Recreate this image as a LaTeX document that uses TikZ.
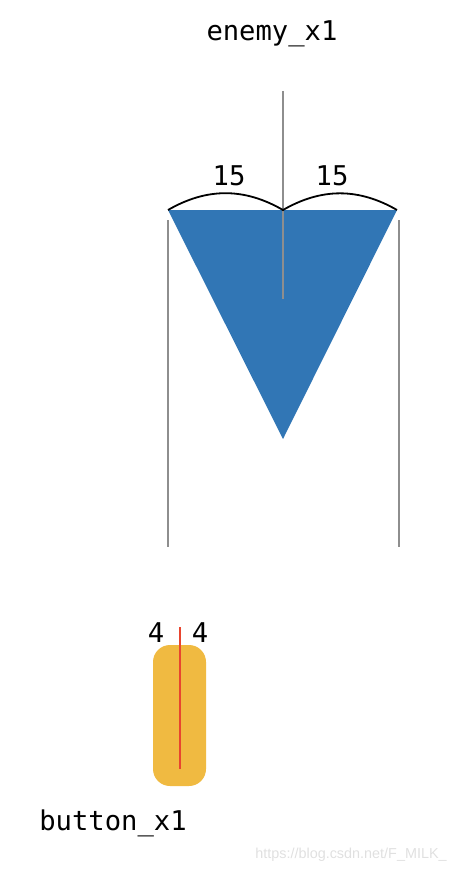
\documentclass[tikz,border=0pt]{standalone}
\usepackage{fontspec}
\newfontfamily\monofont{DejaVu Sans Mono}
\newfontfamily\markfont{Liberation Sans}
\definecolor{enemyblue}{HTML}{3176B5}
\definecolor{buttonyellow}{HTML}{F0BA41}
\definecolor{markred}{HTML}{E8452F}
\definecolor{guidegray}{HTML}{8E8E8E}

\tikzset{guide:style/.style={draw,guidegray,line width=1pt}}
\tikzset{span:style/.style={draw,black,line width=0.9pt,bend left=30}}
\tikzset{label:style/.style={anchor=base,inner sep=0pt,font=\fontsize{13.6}{16}\monofont}}
\def\px{0.5pt}

\begin{document}
\begin{tikzpicture}[x=\px,y=-\px]
	\useasboundingbox (0,0) rectangle (466,872);
	
	\path 
		(168,210) coordinate (tl)
		(283,210) coordinate (tm)
		(397,210) coordinate (tr)
		(283,439) coordinate (tb)
		(283,91) coordinate (axtop)
		(283,299) coordinate (axbot)
		(168,220) coordinate (lgtop)
		(168,547) coordinate (lgbot)
		(399,220) coordinate (rgtop)
		(399,547) coordinate (rgbot)
		(180,627) coordinate (bttop)
		(180,769) coordinate (btbot);
	
	\fill[enemyblue] (tl) -- (tr) -- (tb) -- cycle;
	\path[guide:style] (axtop) -- (axbot);
	\path[guide:style] (lgtop) -- (lgbot);
	\path[guide:style] (rgtop) -- (rgbot);
	\path[span:style] (tl) to (tm);
	\path[span:style] (tm) to (tr);
	\fill (tm) circle (1.2);
	
	\path (272,41) node[label:style] (enemy) {enemy\_x1};
	\path (229,185) node[label:style] (spanl) {15};
	\path (332,185) node[label:style] (spanr) {15};
	
	\fill[buttonyellow,rounded corners=8.5pt] (153,645) rectangle (206,786);
	\draw[markred,line width=1pt] (bttop) -- (btbot);
	\path (156,642) node[label:style] (halfl) {4};
	\path (200,642) node[label:style] (halfr) {4};
	\path (113,830) node[label:style] (button) {button\_x1};
	
	\path (351,858) node[anchor=base,inner sep=0pt,text=black!12,font=\fontsize{7.2}{9}\markfont] (mark) {https://blog.csdn.net/F\_MILK\_};
	
\end{tikzpicture}
\end{document}
